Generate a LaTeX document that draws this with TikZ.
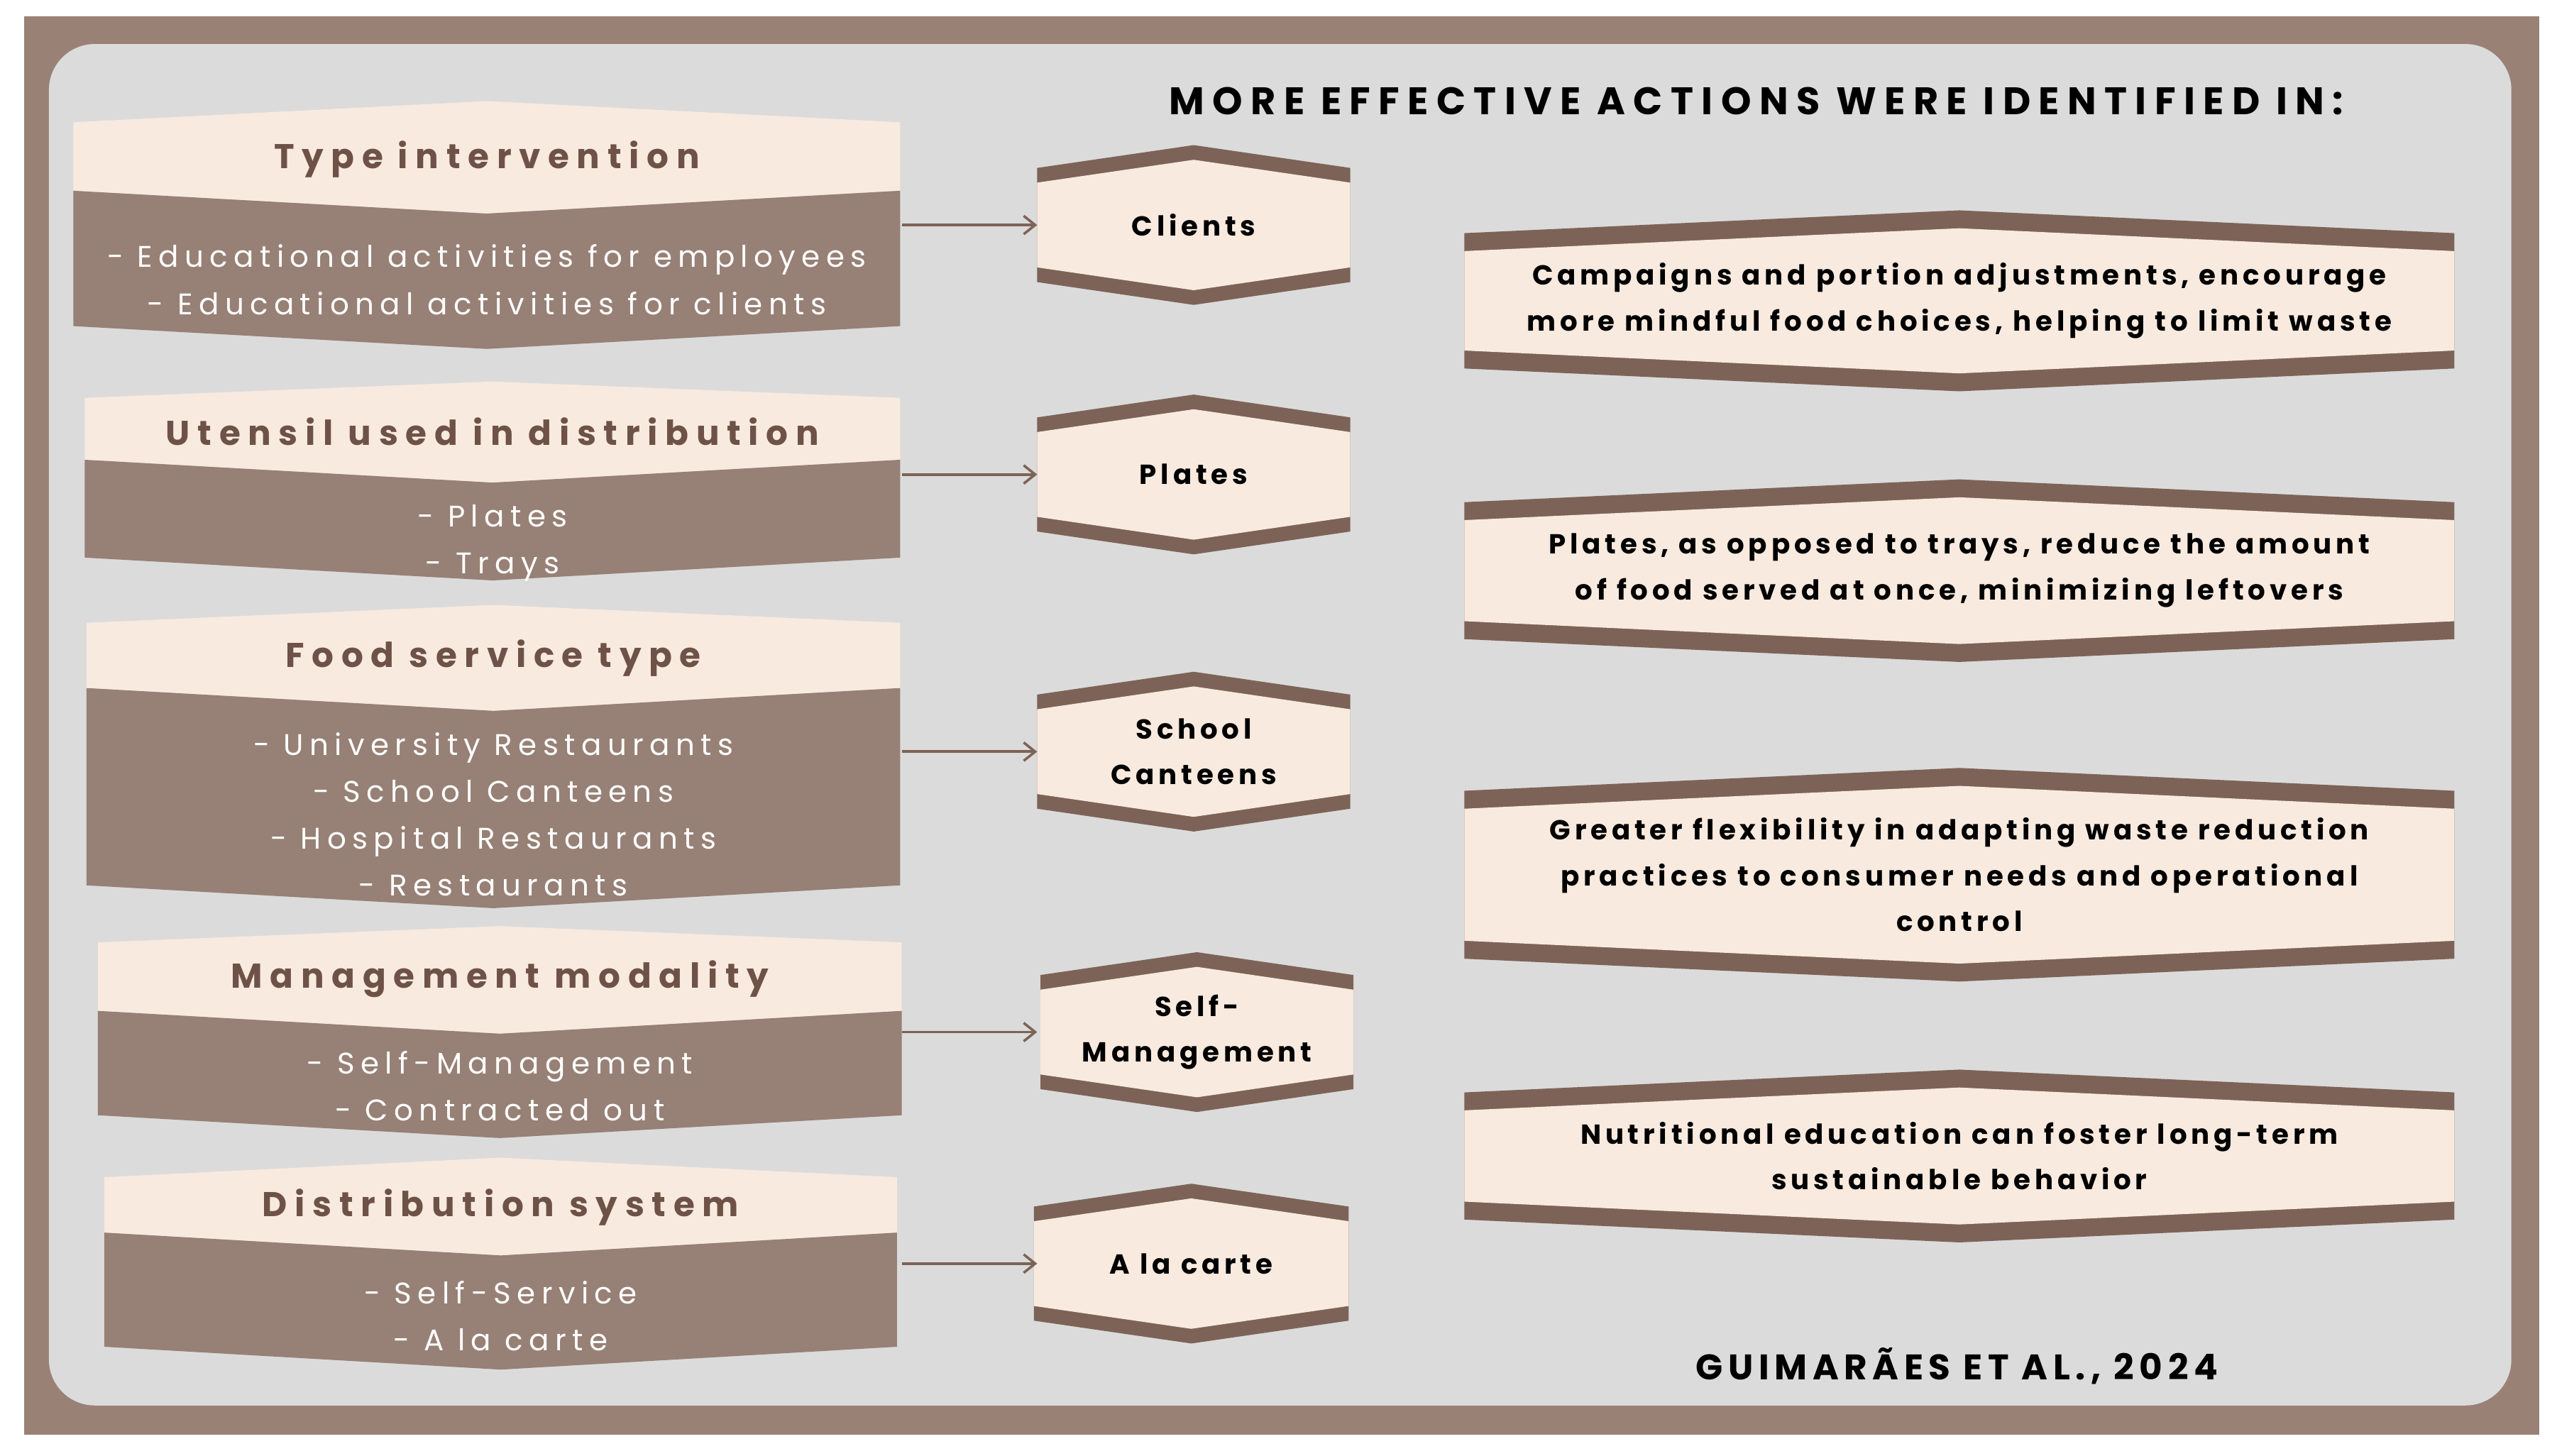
\documentclass[tikz,border=0pt]{standalone}
\usepackage{fontspec}
\setmainfont{Poppins}
\newfontfamily\bodyf{Poppins}[LetterSpace=20]
\newfontfamily\headf{Poppins}[LetterSpace=22]
\newfontfamily\blkf{Poppins}[LetterSpace=15]
\newfontfamily\titf{Poppins}[LetterSpace=21]
\usetikzlibrary{arrows.meta}
\definecolor{frame}{HTML}{9A8176}
\definecolor{bbody}{HTML}{978075}
\definecolor{band}{HTML}{7D6357}
\definecolor{cream}{HTML}{F8EADF}
\definecolor{greybg}{HTML}{DBDBDB}
\definecolor{headc}{HTML}{6E5248}
\tikzset{
 headtxt/.style={text=headc,font=\headf\bfseries\fontsize{30}{34}\selectfont,inner sep=0},
 bodytxt/.style={text=white,font=\bodyf\fontsize{26}{41}\selectfont,align=center,inner sep=0},
 midtxt/.style={text=black,font=\blkf\bfseries\fontsize{24}{40}\selectfont,align=center,inner sep=0},
 righttxt/.style={text=black,font=\blkf\bfseries\fontsize{24}{40}\selectfont,align=center,inner sep=0},
 conn/.style={draw=band,line width=2.4pt,-{Straight Barb[length=10pt,width=16pt,line width=2.2pt]}}
}
\def\bshift{0}
% left box
\newcommand{\leftbox}[9]{%
 \pgfmathsetmacro{\xm}{(#2+#3)/2}%
 \fill[cream] (#2,#5)--(\xm,#4)--(#3,#5)--(#3,#6)--(\xm,#6+14)--(#2,#6)--cycle;
 \fill[bbody] (#2,#6)--(\xm,#6+14)--(#3,#6)--(#3,#7)--(\xm,#7+14)--(#2,#7)--cycle;
 \pgfmathsetmacro{\yh}{(#5+#6)/2+1.5}\pgfmathsetmacro{\yb}{(#6+#7+28)/2+\bshift}%
 \node[headtxt] (#1h) at (\xm,\yh) {#8};
 \node[bodytxt] (#1b) at (\xm,\yb) {#9};
 \coordinate (#1o) at (#3,0);
}
% hexagon
\newcommand{\hexa}[7]{%
 \pgfmathsetmacro{\xm}{(#2+#3)/2}%
 \fill[band] (#2,#5+10)--(\xm,#5-4)--(#3,#5+10)--(#3,#6-10)--(\xm,#6+4)--(#2,#6-10)--cycle;
 \fill[cream] (#2,#5+10+#4)--(\xm,#5-4+#4)--(#3,#5+10+#4)--(#3,#6-10-#4)--(\xm,#6+4-#4)--(#2,#6-10-#4)--cycle;
 \pgfmathsetmacro{\yc}{(#5+#6)/2}%
 \node[#7] (#1) at (\xm,\yc)
}
\begin{document}
\begin{tikzpicture}[x=0.05cm,y=-0.05cm]
\useasboundingbox (0,0) rectangle (1568,893);
\fill[white] (0,0) rectangle (1568,893);
\fill[frame] (15,10) rectangle (1557,880);
\fill[greybg,rounded corners=40] (30,27) rectangle (1540,862);

\node[text=black,font=\titf\bfseries\fontsize{33.5}{36}\selectfont,inner sep=0] (title) at (1077,62) {MORE EFFECTIVE ACTIONS WERE IDENTIFIED IN:};
\node[text=black,font=\blkf\bfseries\fontsize{31}{36}\selectfont,inner sep=0] (cite) at (1200,838) {GUIMARÃES ET AL., 2024};

\def\bshift{-1}
\leftbox{l1}{45}{552}{62}{75}{117}{200}{Type intervention}{- Educational activities for employees\\- Educational activities for clients}
\def\bshift{7}
\leftbox{l2}{52}{552}{234}{244}{282}{342}{Utensil used in distribution}{- Plates\\- Trays}
\def\bshift{3}
\leftbox{l3}{53}{552}{371}{382}{422}{543}{Food service type}{- University Restaurants\\- School Canteens\\- Hospital Restaurants\\- Restaurants}
\def\bshift{0}
\leftbox{l4}{60}{553}{568}{578}{620}{684}{Management modality}{- Self-Management\\- Contracted out}
\def\bshift{2}
\leftbox{l5}{64}{550}{710}{722}{756}{826}{Distribution system}{- Self-Service\\- A la carte}

\hexa{m1}{636}{828}{9}{93}{183}{midtxt}{Clients};
\hexa{m2}{636}{828}{9}{246}{336}{midtxt}{Plates};
\hexa{m3}{636}{828}{9}{416}{506}{midtxt}{School\\Canteens};
\hexa{m4}{638}{830}{9}{588}{678}{midtxt}{Self-\\Management};
\hexa{m5}{634}{827}{9}{730}{820}{midtxt}{A la carte};

\hexa{r1}{898}{1505}{11}{133}{236}{righttxt}{Campaigns and portion adjustments, encourage\\more mindful food choices, helping to limit waste};
\hexa{r2}{898}{1505}{11}{298}{402}{righttxt}{Plates, as opposed to trays, reduce the amount\\of food served at once, minimizing leftovers};
\hexa{r3}{898}{1505}{11}{475}{598}{righttxt}{Greater flexibility in adapting waste reduction\\practices to consumer needs and operational\\control};
\hexa{r4}{898}{1505}{11}{660}{758}{righttxt}{Nutritional education can foster long-term\\sustainable behavior};

\foreach \i/\y in {1/138,2/291,3/461,4/633,5/775}{
 \coordinate (s\i) at (553,\y);
 \coordinate (t\i) at (636,\y);
 \draw[conn] (s\i) -- (t\i);
}
\end{tikzpicture}
\end{document}
